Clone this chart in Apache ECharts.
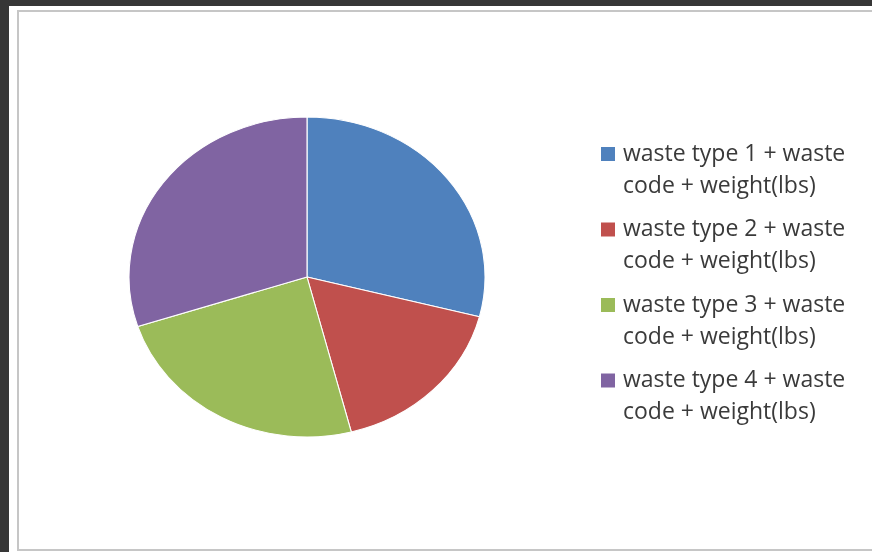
<!DOCTYPE html>
<html>
<head>
<meta charset="utf-8">
<script src="https://cdn.jsdelivr.net/npm/echarts@6/dist/echarts.min.js"></script>
<style>
  html, body { margin: 0; padding: 0; width: 872px; height: 552px; overflow: hidden; background: #363636; }
  #panel { position: absolute; left: 9px; top: 6px; width: 900px; height: 546px; background: #ffffff; }
  #frame { position: absolute; left: 17px; top: 10px; width: 1000px; height: 537px; border-top: 2px solid #c6c6c6; border-bottom: 2px solid #c6c6c6; border-left: 2px solid #c6c6c6; box-sizing: content-box; }
  #pie { position: absolute; left: 107px; top: 77px; width: 400px; height: 400px; transform: scaleX(1.1125); transform-origin: 50% 50%; }
  #legend { position: absolute; left: 0; top: 0; width: 872px; height: 552px; }
</style>
</head>
<body>
<div id="panel"></div>
<div id="frame"></div>
<div id="pie"></div>
<div id="legend"></div>
<script>
// ---- data ----
const categories = [
  'waste type 1 + waste code + weight(lbs)',
  'waste type 2 + waste code + weight(lbs)',
  'waste type 3 + waste code + weight(lbs)',
  'waste type 4 + waste code + weight(lbs)'
];
const values = [29, 17, 24, 30];
const colors = ['#4F81BD', '#C0504D', '#9BBB59', '#8064A2'];

const pieData = categories.map((c, i) => ({ name: c, value: values[i] }));

// Pie (drawn in its own instance, stretched horizontally like the reference)
const pieChart = echarts.init(document.getElementById('pie'), null, { renderer: 'svg' });
pieChart.setOption({
  animation: false,
  color: colors,
  series: [{
    type: 'pie',
    center: ['50%', '50%'],
    radius: 160,
    startAngle: 90,
    clockwise: true,
    data: pieData,
    label: { show: false },
    labelLine: { show: false },
    itemStyle: { borderColor: '#ffffff', borderWidth: 1 }
  }]
});

// Legend instance
const legendChart = echarts.init(document.getElementById('legend'), null, { renderer: 'canvas' });
legendChart.setOption({
  animation: false,
  color: colors,
  legend: {
    orient: 'vertical',
    left: 601,
    top: 106,
    padding: 0,
    itemWidth: 14,
    itemHeight: 14,
    itemGap: -20.5,
    icon: 'rect',
    selectedMode: false,
    data: categories,
    formatter: function (name) {
      const i = name.indexOf(' code');
      return '\n' + name.slice(0, i) + '\n' + name.slice(i + 1);
    },
    textStyle: {
      color: '#3a3a3a',
      fontFamily: 'Open Sans',
      fontSize: 23,
      lineHeight: 32,
      padding: [0, 0, 0, 3]
    }
  },
  series: [{
    type: 'pie',
    radius: 0,
    silent: true,
    data: pieData,
    label: { show: false },
    labelLine: { show: false }
  }]
});
</script>
</body>
</html>
